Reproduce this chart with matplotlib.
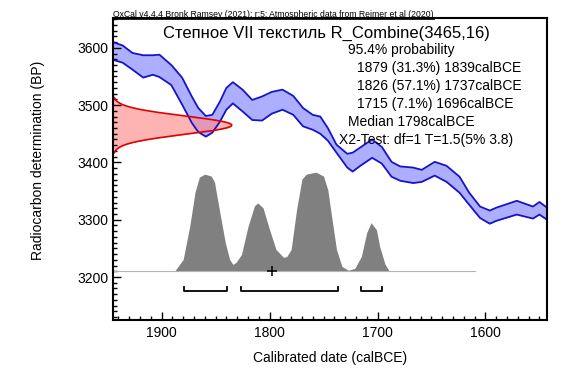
import numpy as np
import matplotlib.pyplot as plt
from matplotlib.lines import Line2D
from matplotlib.ticker import MultipleLocator

plt.rcParams['font.family'] = ['Liberation Sans', 'DejaVu Sans']

# calibration curve band (years calBCE, BP upper / lower edge)
curve_years = [1945, 1936, 1927, 1917, 1908, 1902, 1891, 1881, 1872, 1866,
               1859, 1853, 1846, 1840, 1834, 1825, 1816, 1807, 1798, 1788,
               1778, 1769, 1760, 1753, 1746, 1738, 1728, 1723, 1716, 1705,
               1696, 1687, 1679, 1667, 1659, 1647, 1636, 1624, 1615, 1605,
               1596, 1590, 1571, 1556, 1550, 1543]
curve_upper = [3610, 3604, 3591, 3587, 3587, 3588, 3570, 3548, 3515, 3495,
               3481, 3483, 3506, 3530, 3540, 3527, 3509, 3515, 3523, 3527,
               3516, 3495, 3483, 3480, 3460, 3431, 3415, 3417, 3426, 3440,
               3427, 3401, 3393, 3391, 3387, 3401, 3394, 3375, 3347, 3323,
               3316, 3321, 3333, 3323, 3331, 3321]
curve_lower = [3579, 3574, 3562, 3548, 3553, 3549, 3535, 3501, 3469, 3453,
               3445, 3452, 3471, 3492, 3503, 3489, 3474, 3473, 3485, 3492,
               3483, 3463, 3457, 3450, 3438, 3417, 3391, 3384, 3394, 3408,
               3398, 3375, 3368, 3364, 3366, 3377, 3366, 3347, 3326, 3303,
               3293, 3298, 3309, 3302, 3309, 3300]

# combined radiocarbon measurement
r_mean = 3465
r_sigma = 16

# calibrated probability (relative)
prob_years = [1888, 1880, 1874, 1869, 1865, 1860, 1854, 1851, 1846, 1841,
              1837, 1834, 1831, 1826, 1820, 1814, 1811, 1806, 1800, 1794,
              1787, 1784, 1780, 1775, 1770, 1766, 1757, 1750, 1746, 1743,
              1738, 1733, 1727, 1721, 1715, 1710, 1706, 1701, 1698, 1693, 1689]
prob_values = [0.0, 0.12, 0.45, 0.80, 0.95, 0.98, 0.96, 0.90, 0.59, 0.29,
               0.12, 0.07, 0.09, 0.17, 0.45, 0.66, 0.69, 0.64, 0.42, 0.22,
               0.14, 0.15, 0.22, 0.62, 0.93, 0.98, 1.0, 0.96, 0.82, 0.59,
               0.22, 0.05, 0.01, 0.03, 0.15, 0.39, 0.49, 0.42, 0.25, 0.07, 0.0]

# 95.4% ranges and median
range_starts = [1879, 1826, 1715]
range_ends = [1839, 1737, 1696]
median = 1798

header = "OxCal v4.4.4 Bronk Ramsey (2021); r:5: Atmospheric data from Reimer et al (2020)"
title = "Степное VII текстиль R_Combine(3465,16)"
info_lines = ["95.4% probability",
              "1879 (31.3%) 1839calBCE",
              "1826 (57.1%) 1737calBCE",
              "1715 (7.1%) 1696calBCE",
              "Median 1798calBCE",
              "X2-Test: df=1 T=1.5(5% 3.8)"]
info_x = [348, 357, 357, 357, 348, 339]


def fx(px):
    return px / 585.0


def fy(py):
    return 1 - py / 377.0


fig = plt.figure(figsize=(5.85, 3.77), dpi=100)
ax = fig.add_axes([fx(113), fy(320), 434 / 585.0, 302 / 377.0])

x_left, x_right = 1945, 1543

# calibration curve
ax.fill_between(curve_years, curve_lower, curve_upper, color='#8c8cff', alpha=0.7, lw=0)
ax.plot(curve_years, curve_upper, color='#1414c8', lw=1.3)
ax.plot(curve_years, curve_lower, color='#1414c8', lw=1.3)

# measurement on the y axis
bp = np.linspace(r_mean - 3 * r_sigma, r_mean + 3 * r_sigma, 200)
dens = np.exp(-0.5 * ((bp - r_mean) / r_sigma) ** 2)
ax.fill_betweenx(bp, x_left, x_left - dens * 110, color='#ff8c8c', alpha=0.65, lw=0)
ax.plot(x_left - dens * 110, bp, color='#e00000', lw=1.2)

# calibrated distribution
base = 3210
ax.plot([x_left, 1610], [base, base], color='#b4b4b4', lw=0.8)
ax.fill_between(prob_years, base, base + np.array(prob_values) * 173, color='#808080', lw=0)

# range brackets
for a, b in zip(range_starts, range_ends):
    ax.plot([a, a, b, b], [3183, 3175, 3175, 3183], color='k', lw=1.3)
ax.plot(median, base, marker='+', color='k', ms=7, mew=1.1)

ax.set_xlim(x_left, x_right)
ax.set_ylim(3125, 3652)
ax.xaxis.set_major_locator(MultipleLocator(100))
ax.xaxis.set_minor_locator(MultipleLocator(10))
ax.yaxis.set_major_locator(MultipleLocator(100))
ax.yaxis.set_minor_locator(MultipleLocator(10))
ax.tick_params(which='both', direction='in', top=False, right=False, labelsize=10, width=1)
ax.tick_params(which='major', length=6)
ax.tick_params(which='minor', length=3)
ax.tick_params(axis='x', pad=4)
for s in ax.spines.values():
    s.set_linewidth(1.5)

# texts
h = fig.text(fx(113), fy(14.5), header, fontsize=6.2, ha='left', va='center')
fig.text(fx(163), fy(33), title, fontsize=12, ha='left', va='center')
for i, line in enumerate(info_lines):
    fig.text(fx(info_x[i]), fy(50 + 18 * i), line, fontsize=10, ha='left', va='center')
fig.text(fx(38), fy(160), "Radiocarbon determination (BP)", rotation=90,
         fontsize=10, ha='center', va='center')
fig.text(fx(330), fy(358), "Calibrated date (calBCE)", fontsize=10, ha='center', va='center')

# underline the header
bb = h.get_window_extent(fig.canvas.get_renderer())
W, H = fig.bbox.width, fig.bbox.height
fig.add_artist(Line2D([bb.x0 / W, bb.x1 / W], [(bb.y0 + 0.5) / H, (bb.y0 + 0.5) / H],
                      color='k', lw=0.6))

fig.savefig('out.png', dpi=100)
